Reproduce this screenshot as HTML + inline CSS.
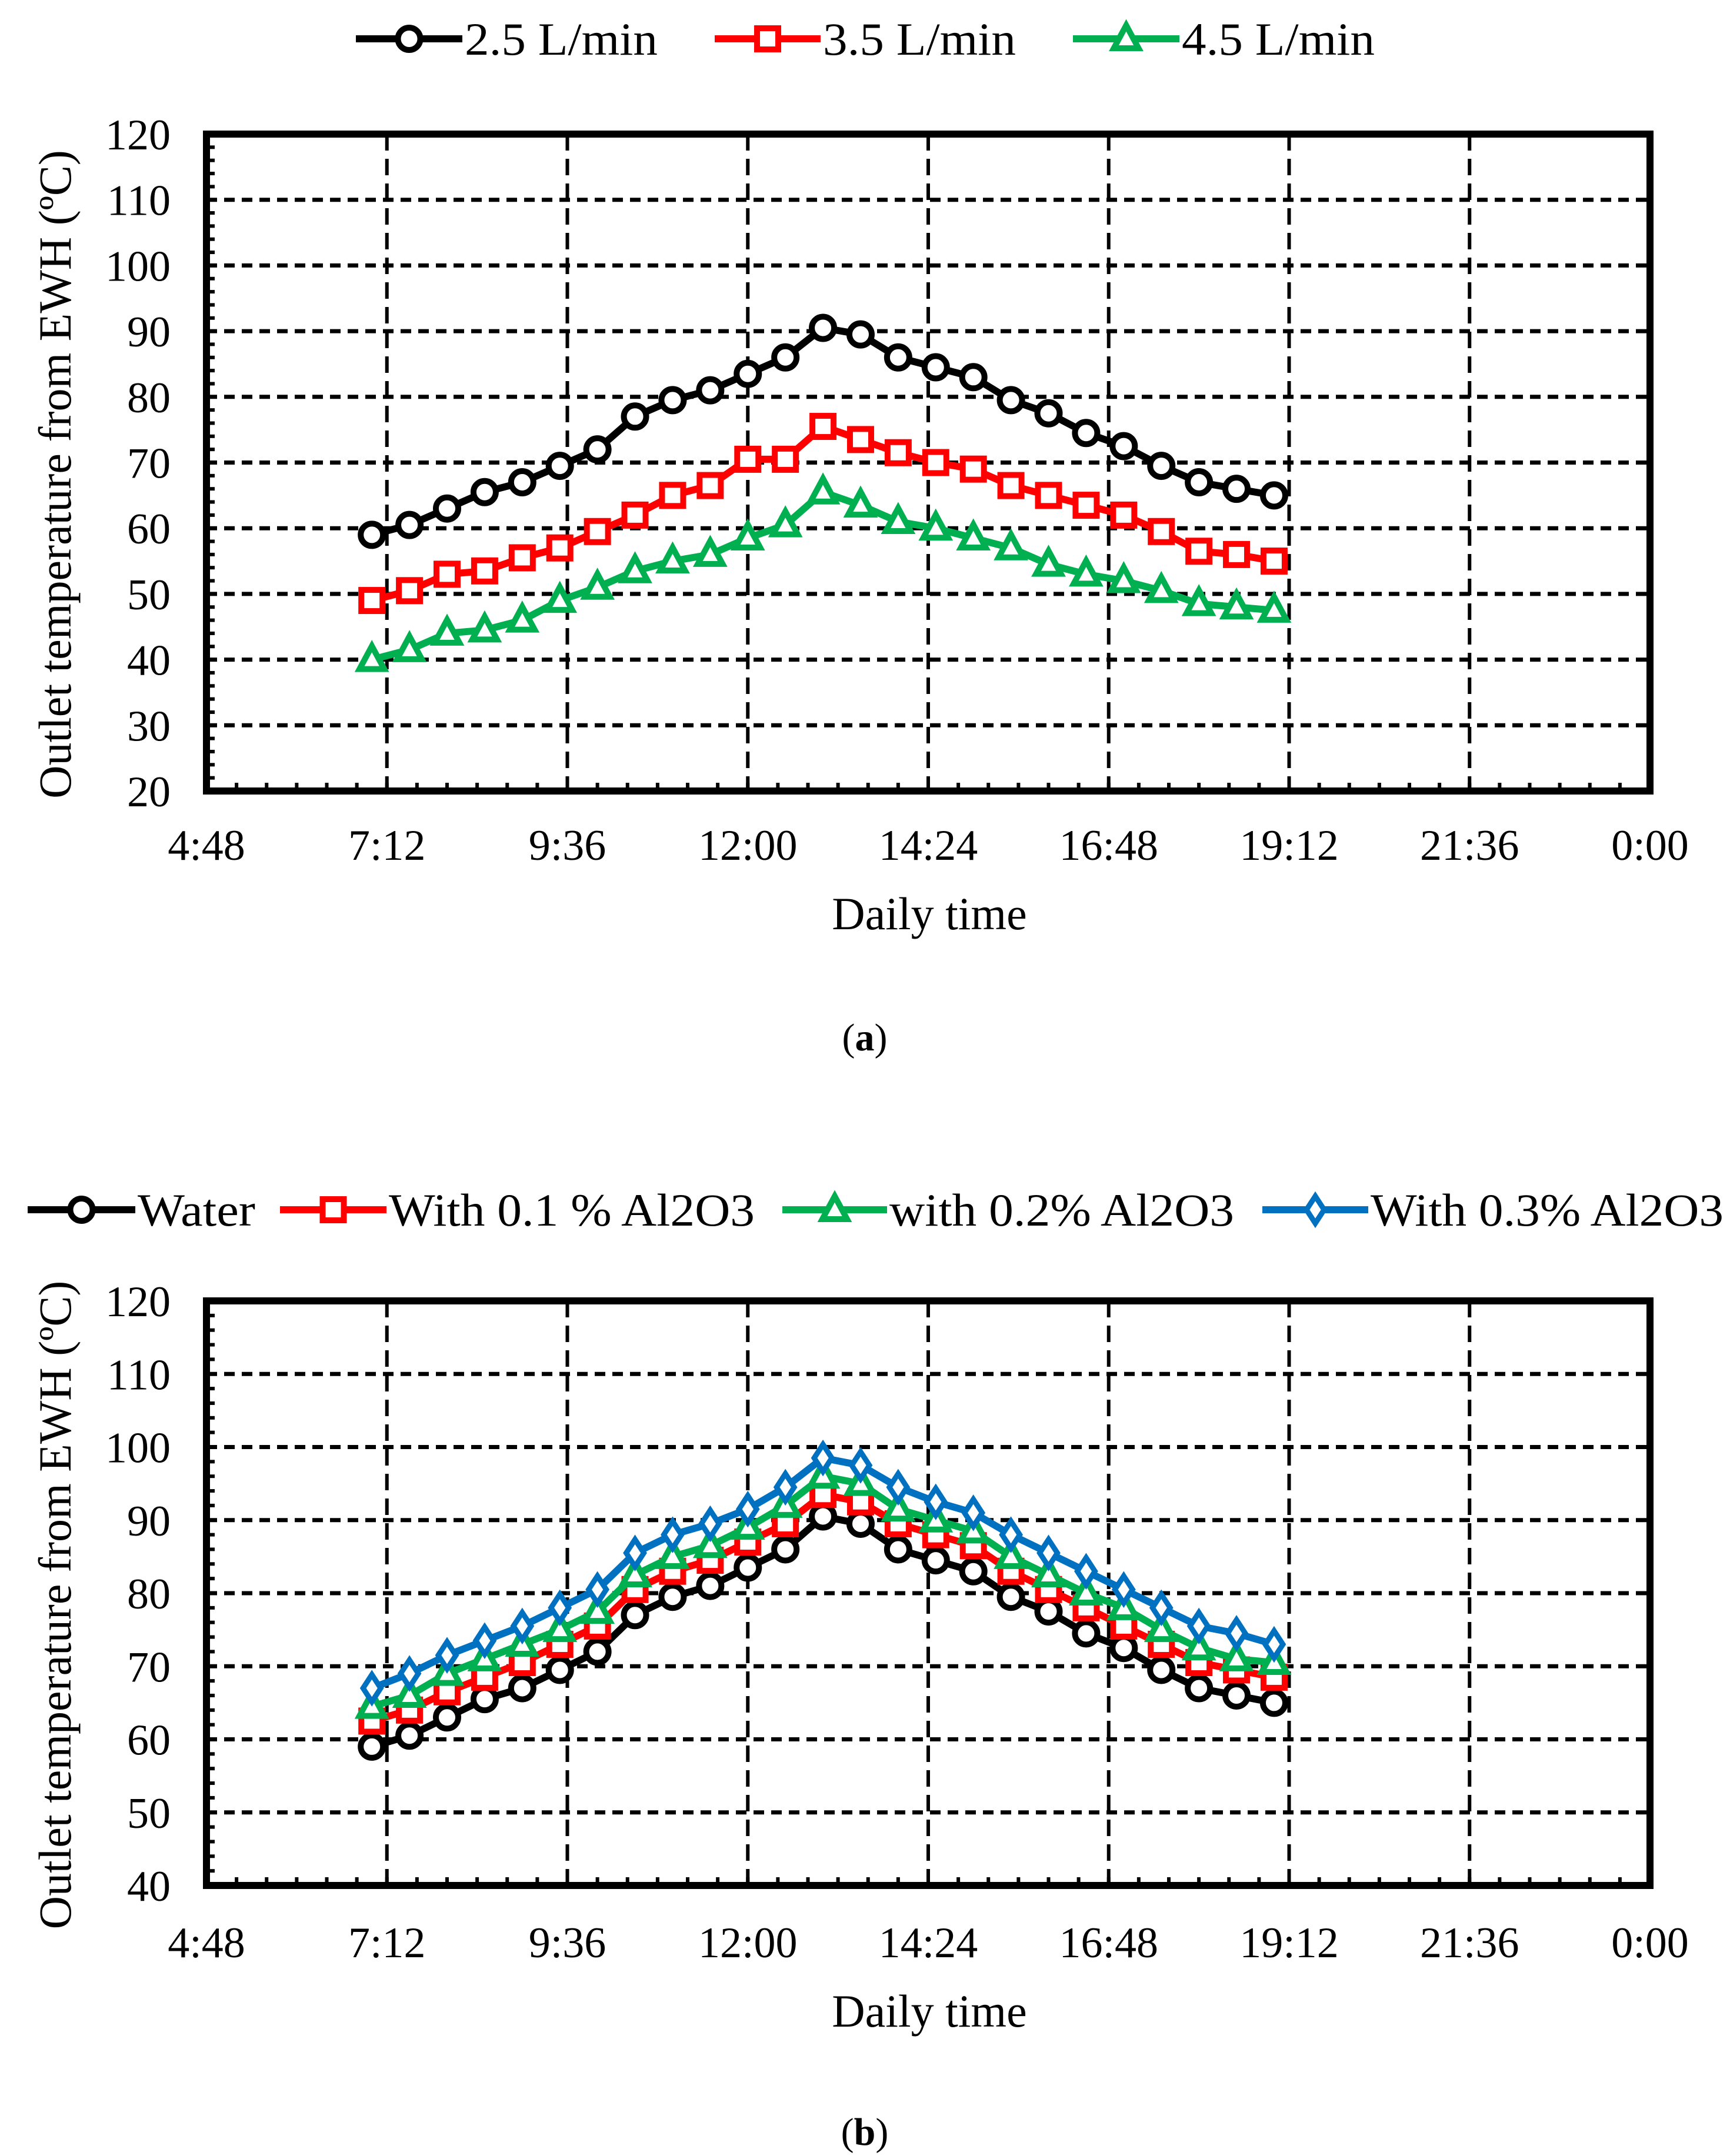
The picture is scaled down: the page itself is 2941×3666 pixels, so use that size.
<!DOCTYPE html>
<html><head><meta charset="utf-8"><style>
html,body{margin:0;padding:0;background:#fff;}
svg{display:block;font-family:"Liberation Serif","Times New Roman",serif;}
</style></head><body>
<svg id="fig" width="2941" height="3666" viewBox="0 0 2941 3666" xmlns="http://www.w3.org/2000/svg"></svg>
<script>
// ---- data ----
const timesMin = [420,450,480,510,540,570,600,630,660,690,720,750,780,810,840,870,900,930,960,990,1020,1050,1080,1110,1140];
const xTickLabels = ["4:48","7:12","9:36","12:00","14:24","16:48","19:12","21:36","0:00"];
const xTickValues = [288,432,576,720,864,1008,1152,1296,1440];
const flow25 = [59,60.5,63,65.5,67,69.5,72,77,79.5,81,83.5,86,90.5,89.5,86,84.5,83,79.5,77.5,74.5,72.5,69.5,67,66,65];
const flow35 = [49,50.5,53,53.5,55.5,57,59.5,62,65,66.5,70.5,70.5,75.5,73.5,71.5,70,69,66.5,65,63.5,62,59.5,56.5,56,55];
const flow45 = [40,41.5,44,44.5,46,49,51,53.5,55,56,58.5,60.5,65.5,63.5,61,60,58.5,57,54.5,53,52,50.5,48.5,48,47.5];
const water = [59,60.5,63,65.5,67,69.5,72,77,79.5,81,83.5,86,90.5,89.5,86,84.5,83,79.5,77.5,74.5,72.5,69.5,67,66,65];
const al01 = [62.5,64,66.5,68.5,70.5,73,75.5,80.5,83,84.5,87,89.5,93.5,92.5,89.5,88,86.5,83,80.5,78,75.5,73,70.5,69.5,68.5];
const al02 = [64.5,66,69,71,73,75,77.5,82.5,85,86.5,89,92,96,95,91.5,90,88.5,85,82.5,80,78,75,72.5,71,70.5];
const al03 = [67,69,71.5,73.5,75.5,78,80.5,85.5,88,89.5,91.5,94.5,98.5,97.5,94.5,92.5,91,88,85.5,83,80.5,78,75.5,74.5,73];
const yTicksA = [20,30,40,50,60,70,80,90,100,110,120];
const yTicksB = [40,50,60,70,80,90,100,110,120];

const NS="http://www.w3.org/2000/svg";
const svg=document.getElementById('fig');
function mk(tag,attrs,parent){const e=document.createElementNS(NS,tag);for(const k in attrs)e.setAttribute(k,attrs[k]);(parent||svg).appendChild(e);return e;}

function marker(g,shape,x,y,color){
  let m;
  if(shape==='circle') m=mk('circle',{cx:x,cy:y,r:19,fill:'#fff',stroke:color,'stroke-width':10},g);
  else if(shape==='square') m=mk('rect',{x:x-18,y:y-18,width:36,height:36,fill:'#fff',stroke:color,'stroke-width':10},g);
  else if(shape==='tri') m=mk('polygon',{points:`${x},${y-23} ${x+21},${y+16} ${x-21},${y+16}`,fill:'#fff',stroke:color,'stroke-width':10},g);
  else m=mk('polygon',{points:`${x},${y-23} ${x+15},${y} ${x},${y+23} ${x-15},${y}`,fill:'#fff',stroke:color,'stroke-width':9},g);
  
  
  return m;
}

function chart(id,top,bot,yMin,yMax,yTicks,series,tickY,titleY,capY,cap){
  const L=351,R=2805;
  const g=mk('g',{});
  
  
  const xs=v=>L+(v-288)/(1440-288)*(R-L);
  const ys=v=>bot-(v-yMin)/(yMax-yMin)*(bot-top);
  yTicks.forEach(v=>{ if(v===yMin||v===yMax) return;
    const l=mk('line',{x1:L,x2:R,y1:ys(v),y2:ys(v),stroke:'#000','stroke-width':7,'stroke-dasharray':'18 12'},g);
    
    
  });
  xTickValues.forEach(v=>{ if(v===288||v===1440) return;
    const l=mk('line',{x1:xs(v),x2:xs(v),y1:top,y2:bot,stroke:'#000','stroke-width':6,'stroke-dasharray':'28 14'},g);
    
    
  });
  for(let v=288;v<=1440;v+=24){const l=mk('line',{x1:xs(v),x2:xs(v),y1:bot-14,y2:bot,stroke:'#000','stroke-width':6},g);
    }
  for(let v=yMin;v<=yMax;v+=2){const l=mk('line',{x1:L,x2:L+14,y1:ys(v),y2:ys(v),stroke:'#000','stroke-width':6},g);
    }
  const fr=mk('rect',{x:L,y:top,width:R-L,height:bot-top,fill:'none',stroke:'#000','stroke-width':12},g);
  
  
  yTicks.forEach(v=>{const t=mk('text',{x:290,y:ys(v)+26,'text-anchor':'end','font-size':74},g);t.textContent=v;
    });
  xTickValues.forEach((v,i)=>{const t=mk('text',{x:xs(v),y:tickY,'text-anchor':'middle','font-size':74},g);t.textContent=xTickLabels[i];
    });
  const xt=mk('text',{x:1580,y:titleY,'text-anchor':'middle','font-size':78},g);xt.textContent='Daily time';
  
  const cy=(top+bot)/2+20;
  const yt=mk('text',{x:0,y:0,'text-anchor':'middle','font-size':78,transform:`translate(120,${cy}) rotate(-90)`},g);yt.textContent='Outlet temperature from EWH (ºC)';
  
  const c=mk('text',{x:1470,y:capY,'text-anchor':'middle','font-size':66},g);
  c.innerHTML='(<tspan font-weight="bold">'+cap+'</tspan>)';
  
  series.forEach(s=>{
    const sg=mk('g',{},g);
    
    
    const pts=s.vals.map((v,i)=>xs(timesMin[i])+','+ys(v)).join(' ');
    const pl=mk('polyline',{points:pts,fill:'none',stroke:s.color,'stroke-width':12,'stroke-linejoin':'round'},sg);
    
    
    s.vals.forEach((v,i)=>marker(sg,s.shape,xs(timesMin[i]),ys(v),s.color));
  });
}

function legend(items,y){
  const g=mk('g',{});
  
  
  items.forEach(it=>{
    const eg=mk('g',{},g);
    
    
    mk('line',{x1:it.x1,x2:it.x2,y1:y,y2:y,stroke:it.color,'stroke-width':12},eg);
    marker(eg,it.shape,(it.x1+it.x2)/2,y,it.color);
    const t=mk('text',{x:it.x2+4,y:y+27,'font-size':78,textLength:it.w,lengthAdjust:'spacingAndGlyphs'},eg);
    t.textContent=it.label;
  });
}

chart('a',228,1345,20,120,yTicksA,[
  {key:'2-5-lpm',vals:flow25,color:'#000',shape:'circle'},
  {key:'3-5-lpm',vals:flow35,color:'#ff0000',shape:'square'},
  {key:'4-5-lpm',vals:flow45,color:'#00b050',shape:'tri'}],1462,1580,1786,'a');
chart('b',2212,3206,40,120,yTicksB,[
  {key:'water',vals:water,color:'#000',shape:'circle'},
  {key:'al2o3-0-1',vals:al01,color:'#ff0000',shape:'square'},
  {key:'al2o3-0-2',vals:al02,color:'#00b050',shape:'tri'},
  {key:'al2o3-0-3',vals:al03,color:'#0070c0',shape:'diamond'}],3328,3446,3647,'b');

legend([
  {x1:605,x2:786,color:'#000',shape:'circle',label:'2.5 L/min',w:328},
  {x1:1215,x2:1395,color:'#ff0000',shape:'square',label:'3.5 L/min',w:328},
  {x1:1824,x2:2005,color:'#00b050',shape:'tri',label:'4.5 L/min',w:328}],66);
legend([
  {x1:47,x2:230,color:'#000',shape:'circle',label:'Water',w:200},
  {x1:476,x2:657,color:'#ff0000',shape:'square',label:'With 0.1 % Al2O3',w:622},
  {x1:1330,x2:1508,color:'#00b050',shape:'tri',label:'with 0.2% Al2O3',w:586},
  {x1:2146,x2:2326,color:'#0070c0',shape:'diamond',label:'With 0.3% Al2O3',w:600}],2057);
</script>
</body></html>
